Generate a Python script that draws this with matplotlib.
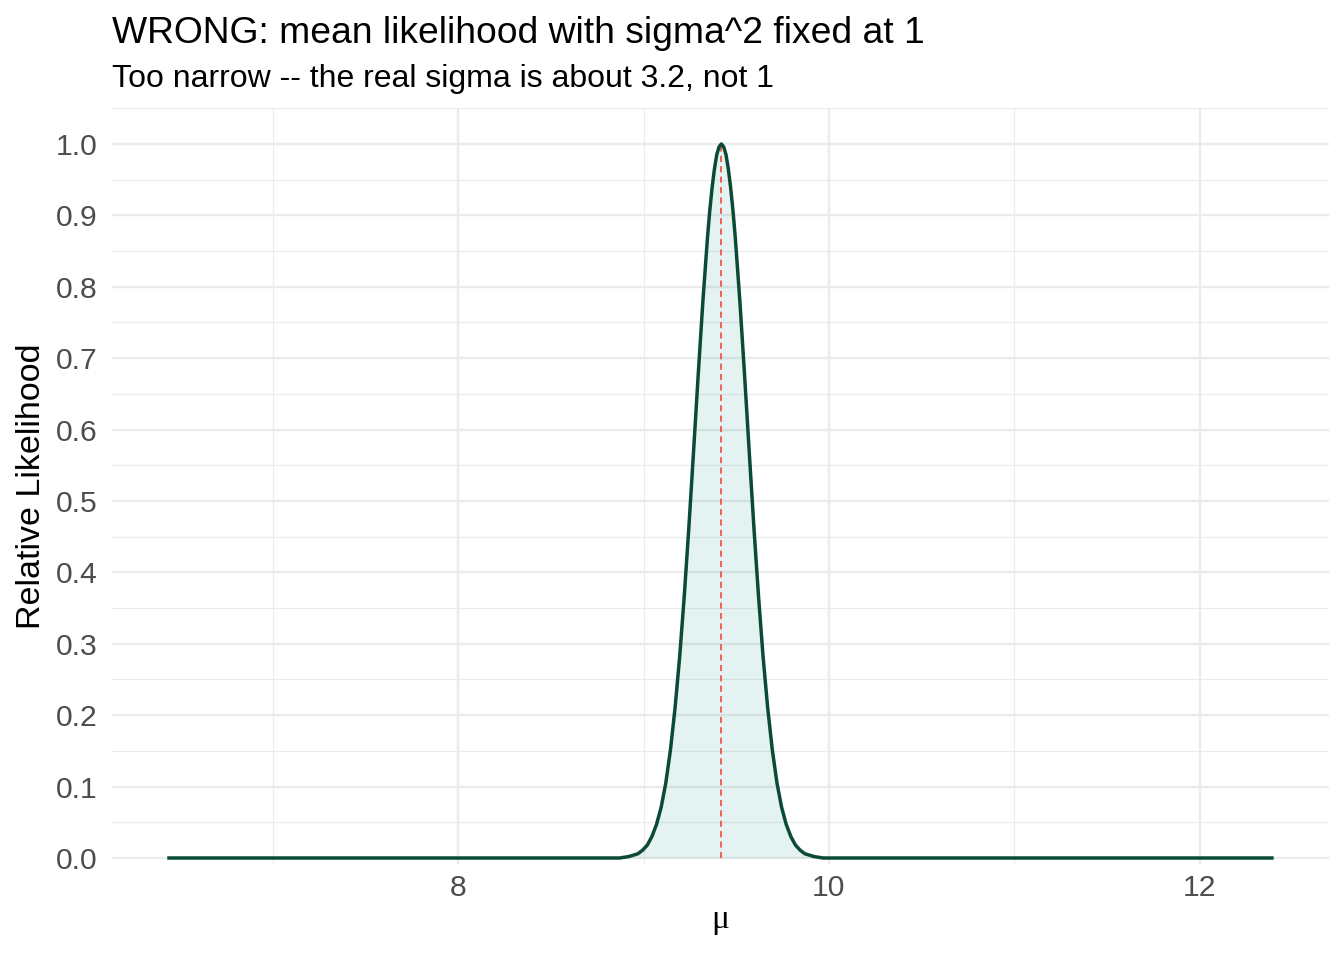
import matplotlib
matplotlib.use("Agg")
import matplotlib.pyplot as plt
from matplotlib.ticker import MultipleLocator

# relative likelihood of mu
mu = [6.430,
      8.870, 8.895, 8.920, 8.945, 8.970, 8.995, 9.020, 9.045, 9.070, 9.095,
      9.120, 9.145, 9.170, 9.195, 9.220, 9.245, 9.270, 9.295, 9.320, 9.345,
      9.3575, 9.370, 9.3825, 9.395, 9.4075, 9.420, 9.4325, 9.445, 9.4575,
      9.470, 9.4825, 9.495, 9.520, 9.545, 9.570, 9.595,
      9.620, 9.645, 9.670, 9.695, 9.720, 9.745, 9.770, 9.795, 9.820, 9.845,
      9.870, 9.895, 9.920, 9.945, 9.970,
      12.400]
rel_lik = [0.0,
           0.0, 0.001, 0.002, 0.004, 0.006, 0.011, 0.018, 0.030, 0.047, 0.071,
           0.105, 0.151, 0.210, 0.282, 0.368, 0.465, 0.570, 0.677, 0.779, 0.869,
           0.907, 0.939, 0.965, 0.985, 0.996, 1.000, 0.996, 0.985, 0.965,
           0.939, 0.907, 0.869, 0.779, 0.677, 0.570, 0.465,
           0.368, 0.282, 0.210, 0.151, 0.105, 0.071, 0.047, 0.030, 0.018, 0.011,
           0.006, 0.004, 0.002, 0.001, 0.0,
           0.0]
mu_hat = 9.42

title = "WRONG: mean likelihood with sigma^2 fixed at 1"
subtitle = "Too narrow -- the real sigma is about 3.2, not 1"

plt.rcParams["font.family"] = ["Liberation Sans", "DejaVu Sans"]

fig = plt.figure(figsize=(13.44, 9.6), dpi=100)
ax = fig.add_axes([0.0833, 0.1, 0.9055, 0.7872])

GRID = "#EBEBEB"
ax.fill_between(mu, rel_lik, 0, color="#008080", alpha=0.1, linewidth=0, zorder=2)
ax.plot([mu_hat, mu_hat], [0, 1], color="#F03C32", linewidth=1.1,
        linestyle=(0, (4, 2.8)), zorder=3)
ax.plot(mu, rel_lik, color="#0B4A35", linewidth=2.5, zorder=4,
        solid_capstyle="butt", solid_joinstyle="round")

xr = max(mu) - min(mu)
ax.set_xlim(min(mu) - 0.05 * xr, max(mu) + 0.05 * xr)
ax.set_ylim(-0.0084, 1.05)

ax.xaxis.set_major_locator(MultipleLocator(2))
ax.xaxis.set_minor_locator(MultipleLocator(1))
ax.yaxis.set_major_locator(MultipleLocator(0.1))
ax.yaxis.set_minor_locator(MultipleLocator(0.05))
ax.yaxis.set_major_formatter(lambda v, p: f"{v:.1f}")

ax.grid(which="major", color=GRID, linewidth=1.7, zorder=0)
ax.grid(which="minor", color=GRID, linewidth=0.85, zorder=0)
ax.set_axisbelow(True)
for s in ax.spines.values():
    s.set_visible(False)
ax.tick_params(which="both", length=0)
ax.tick_params(axis="both", labelsize=21.7, labelcolor="#4D4D4D")
ax.tick_params(axis="x", pad=7)
ax.tick_params(axis="y", pad=10.5)

ax.set_ylabel("Relative Likelihood", fontsize=24.5, labelpad=6)
fig.text(720 / 1344, 1 - 928 / 960, "\u03bc", fontsize=24,
         family=["Liberation Serif", "DejaVu Serif"], ha="center", va="baseline")

fig.text(0.0833, 1 - 43 / 960, title, fontsize=26.8, ha="left", va="baseline")
fig.text(0.0833, 1 - 87 / 960, subtitle, fontsize=23, ha="left", va="baseline")

fig.savefig("out.png", dpi=100, facecolor="white")
